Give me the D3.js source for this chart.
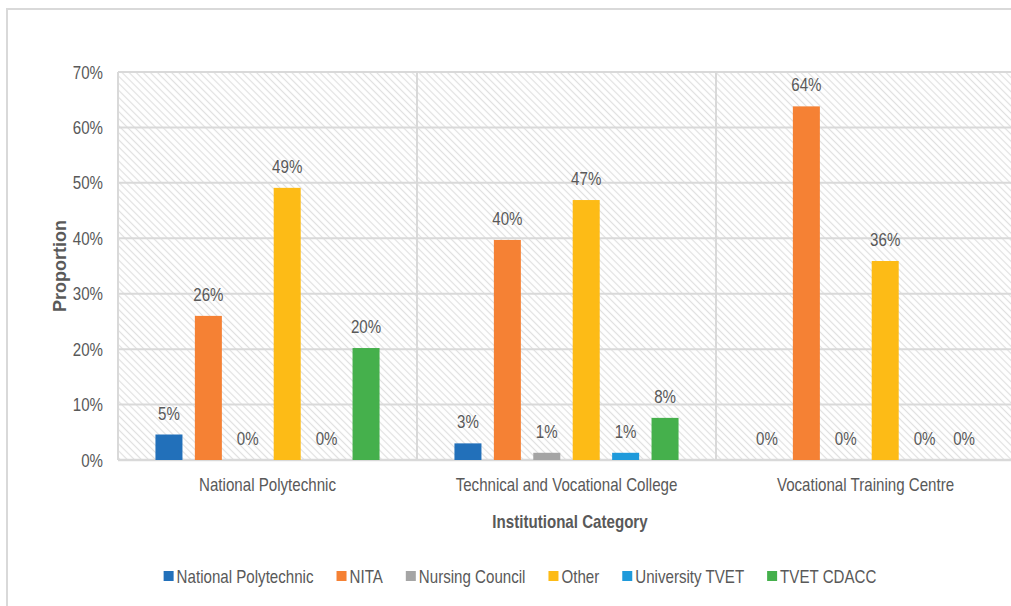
<!DOCTYPE html>
<html>
<head>
<meta charset="utf-8">
<script src="https://cdn.jsdelivr.net/npm/d3@7"></script>
<style>
	body{margin:0;background:#fff;}
	text{font-family:"Liberation Sans",Arial,sans-serif;fill:#595959;}
</style>
</head>
<body>
<div id="chart"></div>
<script>
// data
var categories=["National Polytechnic","Technical and Vocational College","Vocational Training Centre"]
var seriesNames=["National Polytechnic","NITA","Nursing Council","Other","University TVET","TVET CDACC"]
var seriesColors=["#2270BA","#F58134","#A5A5A5","#FDBB16","#1F9ADB","#45B04C"]
var natPoly=[0.046,0.260,0.0,0.491,0.0,0.202]
var techVoc=[0.030,0.397,0.013,0.469,0.013,0.076]
var vocTrain=[0.0,0.638,0.0,0.359,0.0,0.0]
var yTicks=[0,0.1,0.2,0.3,0.4,0.5,0.6,0.7]

var values=[natPoly,techVoc,vocTrain]

var W=1011,H=606
var margin={top:72,left:118,bottom:146}
var plotW=897, plotH=H-margin.top-margin.bottom
var sx=0.84 // the picture's text is squeezed sideways
var pct=d3.format(".0%")

// place a text at (x,y) squeezed sideways
function narrow(sel,x,y){
	sel.attr("x",null).attr("y",null).attr("dy",null)
		.attr("transform",(d,i)=>"translate("+(typeof x=="function"?x(d,i):x)+","+(typeof y=="function"?y(d,i):y)+") scale("+sx+",1)")
}

var svg=d3.select("#chart").append("svg")
	.attr("width",W)
	.attr("height",H)

// hatch fill for the plot area
var defs=svg.append("defs")
defs.append("pattern")
	.attr("id","hatch")
	.attr("patternUnits","userSpaceOnUse")
	.attr("width",5)
	.attr("height",5)
	.attr("patternTransform","rotate(45)")
	.append("line")
	.attr("x1",0).attr("x2",5)
	.attr("y1",2.5).attr("y2",2.5)
	.attr("stroke","#e0e0e0")
	.attr("stroke-width",1.2)

// chart border (runs off the right and bottom edges)
svg.append("rect")
	.attr("x",7).attr("y",9)
	.attr("width",1040).attr("height",640)
	.attr("fill","none")
	.attr("stroke","#d9d9d9")
	.attr("stroke-width",2)

var g=svg.append("g").attr("transform","translate("+margin.left+","+margin.top+")")

var x0=d3.scaleBand().domain(categories).range([0,plotW]).padding(0)
var x1=d3.scaleBand().domain(seriesNames).range([0,x0.bandwidth()]).paddingInner(0.315).paddingOuter(0.95)
var y=d3.scaleLinear().domain([0,0.7]).range([plotH,0])

g.append("rect")
	.attr("width",plotW).attr("height",plotH)
	.attr("fill","url(#hatch)")

// gridlines
g.selectAll(".grid").data(yTicks).enter().append("line")
	.attr("class","grid")
	.attr("x1",0).attr("x2",plotW)
	.attr("y1",d=>y(d)).attr("y2",d=>y(d))
	.attr("stroke","#d9d9d9")
	.attr("stroke-width",d=>d==0?2.5:2)

// category dividers
g.selectAll(".div").data(d3.range(categories.length+1)).enter().append("line")
	.attr("class","div")
	.attr("x1",d=>d*x0.step()).attr("x2",d=>d*x0.step())
	.attr("y1",0).attr("y2",plotH)
	.attr("stroke","#d9d9d9")
	.attr("stroke-width",2)

// y axis labels
var yAxis=g.append("g").call(d3.axisLeft(y).tickValues(yTicks).tickFormat(pct).tickSize(0))
yAxis.select(".domain").remove()
yAxis.selectAll("text").attr("font-size",18).attr("font-family",null).attr("fill","#595959").call(narrow,-15,6)

// x axis labels
var xAxis=g.append("g").attr("transform","translate(0,"+plotH+")")
	.call(d3.axisBottom(x0).tickSize(0))
xAxis.select(".domain").remove()
xAxis.selectAll("text").attr("font-size",18).attr("font-family",null).attr("fill","#595959").call(narrow,0,31)

// bars
var groups=g.selectAll(".cat").data(categories).enter().append("g")
	.attr("class","cat")
	.attr("transform",d=>"translate("+x0(d)+",0)")

groups.selectAll("rect").data((d,i)=>values[i].map((v,j)=>({s:seriesNames[j],v:v,c:seriesColors[j]})))
	.enter().append("rect")
	.attr("x",d=>x1(d.s))
	.attr("width",x1.bandwidth())
	.attr("y",d=>y(d.v))
	.attr("height",d=>plotH-y(d.v))
	.attr("fill",d=>d.c)

groups.selectAll(".lbl").data((d,i)=>values[i].map((v,j)=>({s:seriesNames[j],v:v})))
	.enter().append("text")
	.attr("class","lbl")
	.attr("text-anchor","middle")
	.attr("font-size",18)
	.text(d=>pct(d.v))
	.call(narrow,d=>x1(d.s)+x1.bandwidth()/2,d=>y(d.v)-15)

// axis titles
svg.append("text")
	.attr("transform","translate(66,"+(margin.top+plotH/2)+") rotate(-90)")
	.attr("text-anchor","middle")
	.attr("font-size",18)
	.attr("font-weight","bold")
	.text("Proportion")

svg.append("text")
	.attr("text-anchor","middle")
	.attr("font-size",18)
	.attr("font-weight","bold")
	.text("Institutional Category")
	.call(narrow,570,528)

// legend
var legend=svg.append("g")
var lx=0, gap=23
seriesNames.forEach(function(n,i){
	var it=legend.append("g").attr("transform","translate("+lx+",0)")
	it.append("rect").attr("x",0).attr("y",-12).attr("width",10).attr("height",10).attr("fill",seriesColors[i])
	var t=it.append("text").attr("font-size",18).text(n).call(narrow,13,0)
	lx+=13+t.node().getComputedTextLength()*sx+gap
})
lx-=gap
legend.attr("transform","translate("+(520-lx/2)+",583)")
</script>
</body>
</html>
